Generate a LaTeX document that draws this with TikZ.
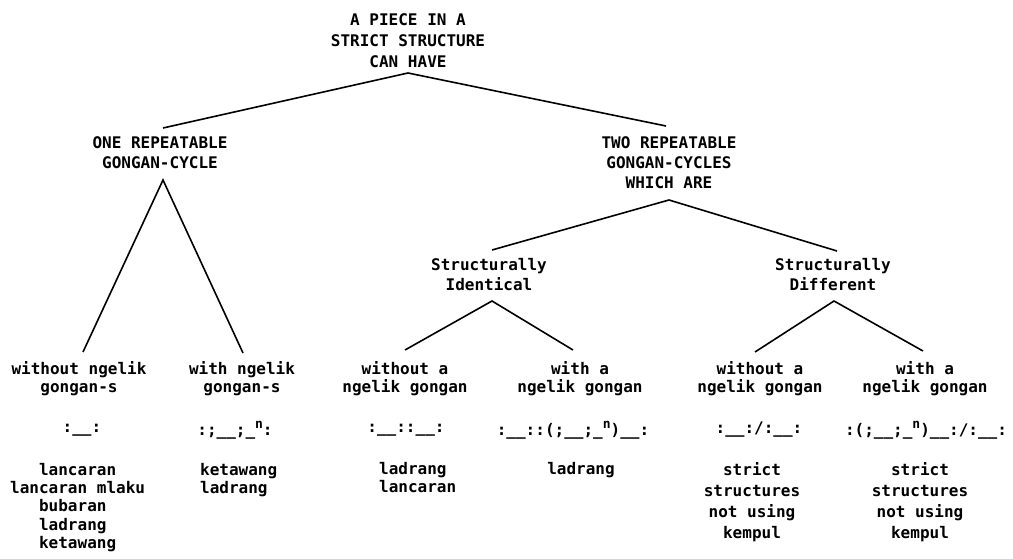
\documentclass[tikz,border=0pt]{standalone}
\usepackage{fontspec}
\setmainfont{DejaVu Sans Mono}
\newcommand\supn{\raisebox{0.75ex}{\fontsize{13}{13}\selectfont n}}
\tikzset{
  txt/.style={inner sep=0pt, align=center, font=\fontsize{16}{20}\selectfont\bfseries},
  lst/.style={inner sep=0pt, font=\fontsize{16}{18.3}\selectfont\bfseries},
  link/.style={line width=1.6pt, line join=miter}
}
\begin{document}
\begin{tikzpicture}[x=1pt,y=-1pt]
\useasboundingbox (0,0) rectangle (1013,559);
% level 0
\node[txt, font=\fontsize{16}{21}\selectfont\bfseries] (top) at (408,41) {A PIECE IN A\\STRICT STRUCTURE\\CAN HAVE};
% level 1
\node[txt] (one) at (160,153) {ONE REPEATABLE\\GONGAN-CYCLE};
\node[txt] (two) at (669,163) {TWO REPEATABLE\\GONGAN-CYCLES\\WHICH ARE};
% level 2
\node[txt] (ident) at (489,275) {Structurally\\Identical};
\node[txt] (diff) at (833,275) {Structurally\\Different};
% level 3
\node[txt, font=\fontsize{16}{18}\selectfont\bfseries] (b1) at (79,379) {without ngelik\\gongan-s};
\node[txt, font=\fontsize{16}{18}\selectfont\bfseries] (b2) at (242,379) {with ngelik\\gongan-s};
\node[txt, font=\fontsize{16}{18}\selectfont\bfseries] (b3) at (405,379) {without a\\ngelik gongan};
\node[txt, font=\fontsize{16}{18}\selectfont\bfseries] (b4) at (580,379) {with a\\ngelik gongan};
\node[txt, font=\fontsize{16}{18}\selectfont\bfseries] (b5) at (760,379) {without a\\ngelik gongan};
\node[txt, font=\fontsize{16}{18}\selectfont\bfseries] (b6) at (925,379) {with a\\ngelik gongan};
% notation
\node[txt] (s1) at (82,430) {:\_\_:};
\node[txt] (s2) at (235,430) {:;\_\_;\_\supn:};
\node[txt] (s3) at (406,430) {:\_\_::\_\_:};
\node[txt] (s4) at (573,430) {:\_\_::(;\_\_;\_\supn)\_\_:};
\node[txt] (s5) at (759,430) {:\_\_:/:\_\_:};
\node[txt] (s6) at (926,430) {:(;\_\_;\_\supn)\_\_:/:\_\_:};
% lists
\node[lst, align=left, anchor=north west] (l1) at (10,463) {\phantom{xxx}lancaran\\lancaran mlaku\\\phantom{xxx}bubaran\\\phantom{xxx}ladrang\\\phantom{xxx}ketawang};
\node[lst, align=left, anchor=north west] (l2) at (200,463) {ketawang\\ladrang};
\node[lst, align=left, anchor=north west] (l3) at (379,462) {ladrang\\lancaran};
\node[lst, align=center, anchor=north] (l4) at (581,462) {ladrang};
\node[lst, align=center, anchor=north, font=\fontsize{16}{21}\selectfont\bfseries] (l5) at (752,462) {strict\\structures\\not using\\kempul};
\node[lst, align=center, anchor=north, font=\fontsize{16}{21}\selectfont\bfseries] (l6) at (920,462) {strict\\structures\\not using\\kempul};
% branch points
\coordinate (topA) at (408,73);
\coordinate (oneT) at (163,128);
\coordinate (twoT) at (666,126);
\coordinate (oneA) at (163,180);
\coordinate (b1T) at (83,352);
\coordinate (b2T) at (243,353);
\coordinate (twoA) at (669,200);
\coordinate (identT) at (492,250);
\coordinate (diffT) at (837,251);
\coordinate (identA) at (492,301);
\coordinate (b3T) at (405,350);
\coordinate (b4T) at (573,350);
\coordinate (diffA) at (834,301);
\coordinate (b5T) at (755,352);
\coordinate (b6T) at (923,351);
% connectors
\draw[link] (oneT) -- (topA) -- (twoT);
\draw[link] (b1T) -- (oneA) -- (b2T);
\draw[link] (identT) -- (twoA) -- (diffT);
\draw[link] (b3T) -- (identA) -- (b4T);
\draw[link] (b5T) -- (diffA) -- (b6T);
\end{tikzpicture}
\end{document}
